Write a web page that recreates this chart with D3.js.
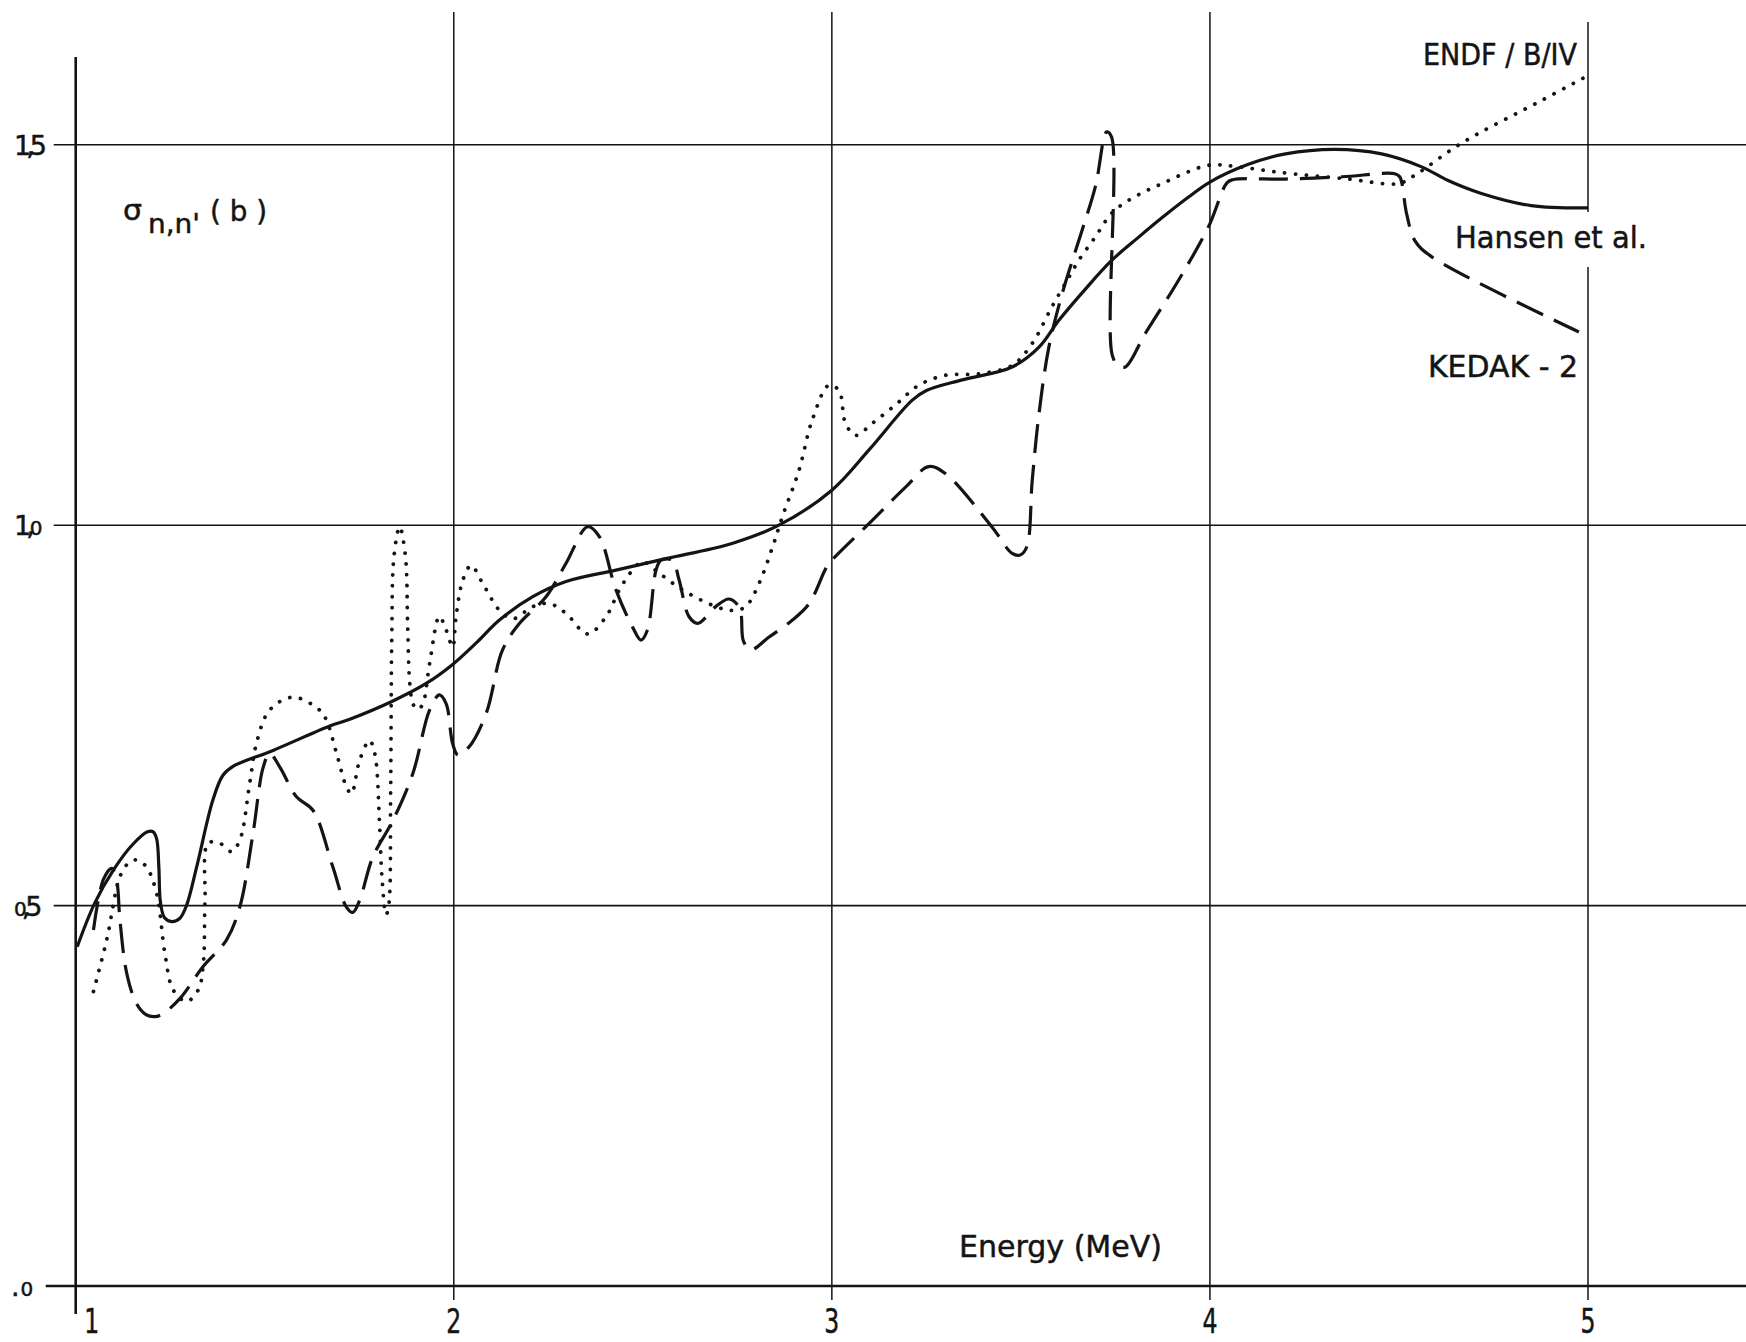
<!DOCTYPE html>
<html>
<head>
<meta charset="utf-8">
<script src="https://cdn.jsdelivr.net/npm/d3@7"></script>
<style>
  html, body { margin: 0; background: #fff; }
  svg { display: block; }
</style>
</head>
<body>
<svg id="chart" width="1746" height="1342"></svg>
<script>
// Inelastic scattering cross section sigma(n,n') versus neutron energy

const energyTicks = [1, 2, 3, 4, 5];
const energyTickLabels = ["1", "2", "3", "4", "5"];
const sigmaTicks = [0, 0.5, 1.0, 1.5];
const sigmaTickLabels = [".0", "0,5", "1,0", "1,5"];

const seriesNames = ["Hansen et al.", "KEDAK - 2", "ENDF / B/IV"];

// Hansen et al. (solid) : [E (MeV), sigma (b)]
const hansen = [
  [1.004,0.446],[1.05,0.503],[1.10,0.547],[1.15,0.580],[1.19,0.597],[1.205,0.597],
  [1.214,0.588],[1.220,0.550],[1.224,0.505],[1.235,0.484],[1.254,0.479],[1.275,0.483],
  [1.293,0.500],[1.32,0.551],[1.363,0.639],[1.389,0.671],[1.416,0.683],[1.522,0.704],
  [1.672,0.736],[1.725,0.745],[1.839,0.769],[1.927,0.792],[1.997,0.817],[2.063,0.847],
  [2.12,0.875],[2.209,0.906],[2.297,0.926],[2.429,0.941],[2.561,0.956],[2.736,0.976],
  [2.86,1.000],[3.0,1.046],[3.1,1.100],[3.212,1.164],[3.25,1.177],[3.345,1.191],
  [3.477,1.208],[3.548,1.234],[3.60,1.269],[3.67,1.310],[3.74,1.348],[3.81,1.378],
  [3.873,1.404],[3.94,1.430],[4.0,1.451],[4.1,1.474],[4.2,1.488],[4.331,1.494],
  [4.454,1.488],[4.56,1.471],[4.63,1.453],[4.718,1.436],[4.85,1.420],[5.0,1.417]
];

// KEDAK-2 (dashed)
const kedak = [
  [1.047,0.468],[1.073,0.534],[1.095,0.549],[1.108,0.534],[1.117,0.481],[1.135,0.411],
  [1.161,0.371],[1.185,0.357],[1.209,0.354],[1.231,0.358],[1.276,0.378],[1.337,0.420],
  [1.399,0.455],[1.434,0.498],[1.469,0.595],[1.496,0.682],[1.513,0.700],[1.540,0.682],
  [1.584,0.643],[1.628,0.625],[1.680,0.551],[1.716,0.498],[1.733,0.491],[1.751,0.507],
  [1.786,0.564],[1.839,0.612],[1.892,0.674],[1.936,0.757],[1.962,0.777],[1.980,0.765],
  [1.997,0.713],[2.011,0.698],[2.041,0.709],[2.086,0.753],[2.129,0.836],[2.174,0.871],
  [2.244,0.906],[2.297,0.950],[2.354,0.998],[2.385,0.985],[2.429,0.915],[2.473,0.866],
  [2.495,0.849],[2.512,0.862],[2.535,0.941],[2.548,0.954],[2.578,0.954],[2.596,0.928],
  [2.622,0.880],[2.645,0.871],[2.693,0.893],[2.728,0.903],[2.756,0.891],[2.766,0.848],
  [2.785,0.836],[2.834,0.853],[2.895,0.875],[2.940,0.897],[2.985,0.944],[3.0,0.954],
  [3.098,1.002],[3.195,1.050],[3.256,1.077],[3.300,1.068],[3.423,0.998],[3.477,0.963],
  [3.499,0.961],[3.516,0.972],[3.530,1.059],[3.548,1.147],[3.574,1.234],[3.609,1.304],
  [3.653,1.374],[3.697,1.445],[3.727,1.517],[3.740,1.510],[3.741,1.225],[3.757,1.210],
  [3.776,1.208],[3.829,1.252],[3.917,1.322],[3.996,1.392],[4.045,1.450],[4.060,1.454],
  [4.200,1.455],[4.350,1.458],[4.489,1.462],[4.502,1.458],[4.520,1.410],[4.542,1.374],
  [4.586,1.353],[4.976,1.254]
];

// ENDF/B-IV (dotted)
const endf = [
  [1.047,0.387],[1.082,0.455],[1.117,0.538],[1.140,0.556],[1.161,0.560],[1.187,0.551],
  [1.214,0.516],[1.236,0.437],[1.258,0.389],[1.293,0.374],[1.324,0.389],[1.337,0.420],
  [1.342,0.507],[1.350,0.582],[1.381,0.582],[1.412,0.571],[1.434,0.586],[1.460,0.660],
  [1.478,0.713],[1.513,0.757],[1.575,0.774],[1.645,0.757],[1.663,0.744],[1.690,0.700],
  [1.716,0.656],[1.729,0.647],[1.751,0.691],[1.777,0.717],[1.791,0.700],[1.804,0.604],
  [1.810,0.538],[1.821,0.488],[1.828,0.500],[1.833,0.650],[1.836,0.850],[1.842,0.960],
  [1.857,0.998],[1.872,0.960],[1.878,0.870],[1.884,0.790],[1.893,0.764],[1.905,0.758],
  [1.918,0.765],[1.936,0.818],[1.962,0.880],[1.980,0.862],[1.997,0.840],[2.006,0.880],
  [2.024,0.928],[2.046,0.947],[2.077,0.923],[2.121,0.888],[2.156,0.877],[2.209,0.893],
  [2.253,0.897],[2.297,0.884],[2.354,0.857],[2.403,0.880],[2.438,0.915],[2.473,0.941],
  [2.499,0.952],[2.543,0.937],[2.605,0.915],[2.693,0.893],[2.737,0.888],[2.772,0.893],
  [2.807,0.923],[2.843,0.971],[2.869,1.011],[2.913,1.072],[2.948,1.138],[2.992,1.184],
  [3.019,1.177],[3.036,1.134],[3.063,1.118],[3.107,1.134],[3.168,1.158],[3.230,1.184],
  [3.300,1.197],[3.388,1.199],[3.477,1.210],[3.530,1.239],[3.582,1.287],[3.627,1.326],
  [3.653,1.348],[3.697,1.379],[3.740,1.410],[3.785,1.427],[3.873,1.449],[3.996,1.473],
  [4.075,1.471],[4.181,1.464],[4.366,1.455],[4.498,1.449],[4.542,1.460],[4.665,1.502],
  [4.876,1.558],[5.0,1.591]
];

const svg = d3.select("#chart");
const W = 1746, H = 1342;
const ink = "#141414";
const font = "'DejaVu Sans', 'Noto Sans', sans-serif";

const x = d3.scaleLinear().domain([1, 5]).range([75.7, 1588]);
const y = d3.scaleLinear().domain([0, 1.5]).range([1286, 144.8]);

svg.append("rect").attr("width", W).attr("height", H).attr("fill", "#fff");

// ---- grid ----
const grid = svg.append("g").attr("stroke", ink).attr("fill", "none");

// vertical grid lines at 2..5 MeV
grid.selectAll("line.vx")
  .data(energyTicks.slice(1))
  .join("line")
  .attr("class", "vx")
  .attr("x1", d => x(d)).attr("x2", d => x(d))
  .attr("y1", d => d === 5 ? 22 : 12)
  .attr("y2", y(0) + 14)
  .attr("stroke-width", 1.5);

// horizontal grid lines at 0.5, 1.0, 1.5 (with a short tick left of the axis)
grid.selectAll("line.hy")
  .data(sigmaTicks.slice(1))
  .join("line")
  .attr("class", "hy")
  .attr("x1", x(1) - 22).attr("x2", W)
  .attr("y1", d => y(d)).attr("y2", d => y(d))
  .attr("stroke-width", 1.6);

// main axes
grid.append("line")
  .attr("x1", x(1)).attr("x2", x(1))
  .attr("y1", 57).attr("y2", y(0) + 28)
  .attr("stroke-width", 2.6);
grid.append("line")
  .attr("x1", x(1) - 30).attr("x2", W)
  .attr("y1", y(0)).attr("y2", y(0))
  .attr("stroke-width", 2.6);

// lettering: thin outline gives the pen-plotted weight
const letter = sel => sel.attr("fill", ink).attr("stroke", ink)
  .attr("stroke-width", 0.5).attr("font-family", font);

// ---- tick labels (tightly set digits, zero drawn small) ----
const yLab = svg.append("g").call(letter);
sigmaTicks.forEach((v, i) => {
  const t = yLab.append("text")
    .attr("x", v === 0 ? 11 : 14)
    .attr("y", y(v) + 10)
    .attr("font-size", 27)
    .attr("letter-spacing", -5);
  sigmaTickLabels[i].split("").forEach(ch => {
    const s = t.append("tspan")
      .attr("font-size", ch === "0" ? 20 : 27)
      .text(ch);
    if (v === 0 && ch === "0") s.attr("dx", 6);
  });
});

const xLab = svg.append("g").call(letter);
energyTicks.forEach((v, i) => {
  xLab.append("text")
    .attr("x", v === 1 ? x(v) + 16 : x(v))
    .attr("y", 1333)
    .attr("text-anchor", "middle")
    .attr("font-size", 33)
    .attr("textLength", 15)
    .attr("lengthAdjust", "spacingAndGlyphs")
    .text(energyTickLabels[i]);
});

// ---- axis titles ----
const titles = svg.append("g").call(letter);
titles.append("text").attr("x", 959).attr("y", 1257).attr("font-size", 31)
  .attr("textLength", 203).attr("lengthAdjust", "spacingAndGlyphs")
  .text("Energy  (MeV)");
titles.append("text").attr("x", 123).attr("y", 220).attr("font-size", 28)
  .attr("textLength", 19).attr("lengthAdjust", "spacingAndGlyphs").text("σ");
titles.append("text").attr("x", 148).attr("y", 233).attr("font-size", 27)
  .attr("textLength", 52).attr("lengthAdjust", "spacingAndGlyphs").text("n,n'");
titles.append("text").attr("x", 210).attr("y", 221).attr("font-size", 29)
  .attr("textLength", 57).attr("lengthAdjust", "spacingAndGlyphs").text("( b )");

// ---- curve labels ----
const labels = svg.append("g");
const hansenLabel = labels.append("text").call(letter)
  .attr("x", 1455).attr("y", 248).attr("font-size", 30)
  .attr("textLength", 192).attr("lengthAdjust", "spacingAndGlyphs")
  .text(seriesNames[0]);
const hb = hansenLabel.node().getBBox();
labels.insert("rect", "text")
  .attr("x", hb.x - 4).attr("y", 212)
  .attr("width", hb.width + 8).attr("height", 55)
  .attr("fill", "#fff");
labels.append("text").call(letter)
  .attr("x", 1428).attr("y", 377).attr("font-size", 30)
  .attr("textLength", 150).attr("lengthAdjust", "spacingAndGlyphs")
  .text(seriesNames[1]);
labels.append("text").call(letter)
  .attr("x", 1423).attr("y", 65).attr("font-size", 30)
  .attr("textLength", 154).attr("lengthAdjust", "spacingAndGlyphs")
  .text(seriesNames[2]);

// ---- curves ----
const line = d3.line()
  .x(d => x(d[0]))
  .y(d => y(d[1]))
  .curve(d3.curveCatmullRom.alpha(0.5));

const curves = svg.append("g").attr("fill", "none").attr("stroke", ink);

curves.append("path")
  .datum(hansen)
  .attr("d", line)
  .attr("stroke-width", 3.2)
  .attr("stroke-linejoin", "round");

curves.append("path")
  .datum(kedak)
  .attr("d", line)
  .attr("stroke-width", 3.2)
  .attr("stroke-dasharray", "29 12");

curves.append("path")
  .datum(endf)
  .attr("d", line)
  .attr("stroke-width", 3.8)
  .attr("stroke-linecap", "round")
  .attr("stroke-dasharray", "0.1 10.8");
</script>
</body>
</html>
